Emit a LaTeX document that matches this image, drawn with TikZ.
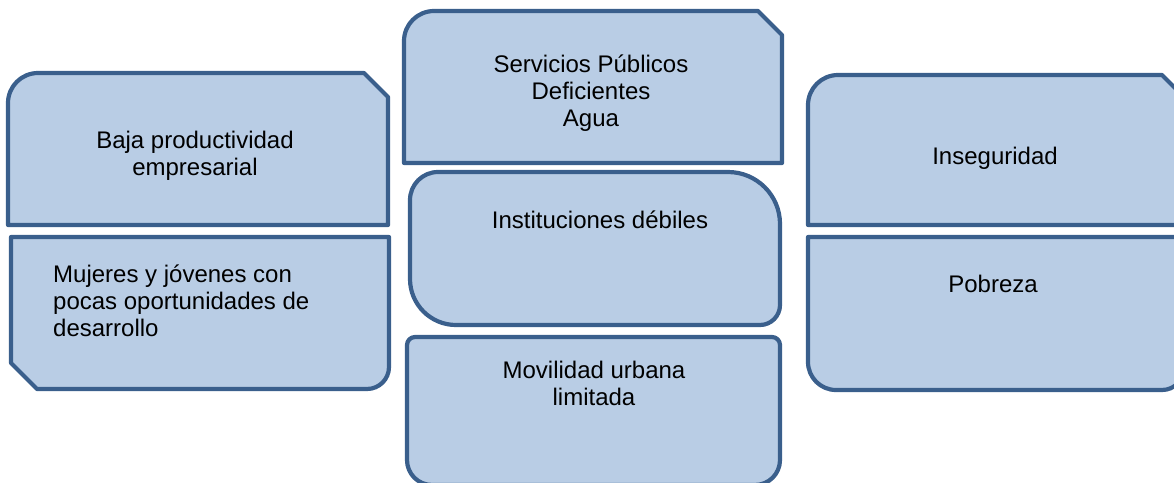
\documentclass[tikz,border=0pt]{standalone}
\usepackage{fontspec}
\setmainfont{Liberation Sans}
\definecolor{boxline}{HTML}{3A5F8C}
\definecolor{boxfill}{HTML}{B9CDE5}
\begin{document}
\begin{tikzpicture}[x=1pt,y=-1pt,
  shapebox/.style={draw=boxline,fill=boxfill,line width=4.2pt,line join=round},
  label/.style={inner sep=0pt,font=\fontsize{24}{27.2}\selectfont,text=black}]
\useasboundingbox (0,0) rectangle (1174,482);
% Box A
\draw[shapebox] (8,225) -- (8,103) arc[start angle=180,end angle=270,radius=30] -- (364,73) -- (388,97) -- (388,225) -- cycle;
% Box B
\draw[shapebox] (11,237) -- (389,237) -- (389,367) arc[start angle=0,end angle=90,radius=22] -- (37,389) -- (11,363) -- cycle;
% Box C
\draw[shapebox] (404,163) -- (404,41) arc[start angle=180,end angle=270,radius=30] -- (758,11) -- (782,35) -- (782,163) -- cycle;
% Box D
\draw[shapebox] (438,172) -- (728,172) arc[start angle=270,end angle=360,radius=52] -- (780,305) arc[start angle=0,end angle=90,radius=20] -- (456,325) arc[start angle=90,end angle=180,radius=46] -- (410,200) arc[start angle=180,end angle=270,radius=28] -- cycle;
% Box E
\draw[shapebox] (407,345) arc[start angle=180,end angle=270,radius=8] -- (772,337) arc[start angle=270,end angle=360,radius=8] -- (780,460) arc[start angle=0,end angle=90,radius=25] -- (432,485) arc[start angle=90,end angle=180,radius=25] -- cycle;
% Box F
\draw[shapebox] (808,225) -- (808,105) arc[start angle=180,end angle=270,radius=30] -- (1162,75) -- (1186,99) -- (1186,225) -- cycle;
% Box G
\draw[shapebox] (808,237) -- (1184,237) -- (1184,368) arc[start angle=0,end angle=90,radius=22] -- (836,390) arc[start angle=90,end angle=180,radius=28] -- cycle;
% Texts
\node[label,anchor=base] (ta) at (195,148) {\begin{tabular}[t]{@{}c@{}}Baja productividad\\empresarial\end{tabular}};
\node[label,anchor=base west] (tb) at (53,282) {\begin{tabular}[t]{@{}l@{}}Mujeres y jóvenes con\\pocas oportunidades de\\desarrollo\end{tabular}};
\node[label,anchor=base] (tc) at (591,72) {\begin{tabular}[t]{@{}c@{}}Servicios Públicos\\Deficientes\\Agua\end{tabular}};
\node[label,anchor=base] (td) at (600,228) {Instituciones débiles};
\node[label,anchor=base] (te) at (594,378) {\begin{tabular}[t]{@{}c@{}}Movilidad urbana\\limitada\end{tabular}};
\node[label,anchor=base] (tf) at (995,164) {Inseguridad};
\node[label,anchor=base] (tg) at (993,292) {Pobreza};
\end{tikzpicture}
\end{document}
